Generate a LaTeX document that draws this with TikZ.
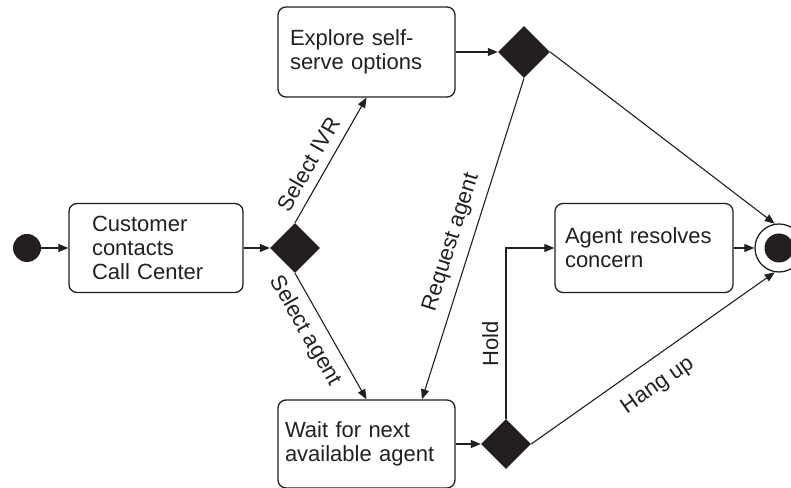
\documentclass[tikz,border=0pt]{standalone}
\usepackage{fontspec}
\setmainfont{Liberation Sans}
\definecolor{ink}{HTML}{231F20}
\usepackage{tikz}
\usetikzlibrary{arrows.meta,shapes.geometric}

\begin{document}
\begin{tikzpicture}[x=1bp,y=1bp,>={Triangle[length=10bp,width=8bp]},color=ink,
  every node/.style={font=\fontsize{22bp}{24bp}\selectfont},
  activity/.style={draw=ink,rounded corners=8bp,line width=1.3bp,align=left,inner ysep=0pt},
  decision/.style={diamond,fill=ink,inner sep=0pt,minimum width=50bp,minimum height=50bp},
  guard/.style={sloped,inner sep=9bp},
  flow/.style={->,draw=ink,line width=1.1bp}]
\useasboundingbox (0,0) rectangle (791,488);
\node[circle,fill=ink,minimum size=28bp,inner sep=0pt] (S) at (27,240) {};
\node[activity,text width=128bp,inner xsep=23bp,minimum height=89bp] (A) at (156,240) {Customer\\contacts\\Call Center};
\node[decision] (D1) at (295,240) {};
\node[activity,text width=153bp,inner xsep=12bp,minimum height=90bp] (B) at (366.5,436) {Explore self-\\serve options};
\node[decision,minimum width=52bp,minimum height=52bp] (D2) at (524,436) {};
\node[activity,text width=163bp,inner xsep=7bp,minimum height=88bp] (C) at (366.5,44) {Wait for next\\available agent};
\node[decision] (D3) at (506,44) {};
\node[activity,text width=158bp,inner xsep=10bp,minimum height=89bp] (E) at (644,240) {Agent resolves\\concern};
\node[circle,draw=ink,line width=1.3bp,minimum size=48bp,inner sep=0pt] (F) at (779,240) {};
\fill[ink] (F.center) circle (14.5);
\draw[flow] (S) -- (A);
\draw[flow] (A) -- (D1);
\draw[flow] (D1.north) -- node[guard,above,pos=0.4] {Select IVR} (B.south);
\draw[flow] (D1.south) -- node[guard,below,pos=0.38] {Select agent} (C.north);
\draw[flow] (B) -- (D2);
\draw[flow] (D2.south) -- node[guard,above,pos=0.53] {Request agent} ([xshift=55.5bp]C.north);
\draw[flow] (D2.east) -- (F.100);
\draw[flow] (C) -- (D3);
\draw[flow] (D3.north) |- node[guard,above,pos=0.22,inner sep=7bp] {Hold} (E.west);
\draw[flow] (E) -- (F);
\draw[flow] (D3.east) -- node[guard,below,pos=0.46,inner sep=15bp] {Hang up} (F.260);
\end{tikzpicture}
\end{document}
